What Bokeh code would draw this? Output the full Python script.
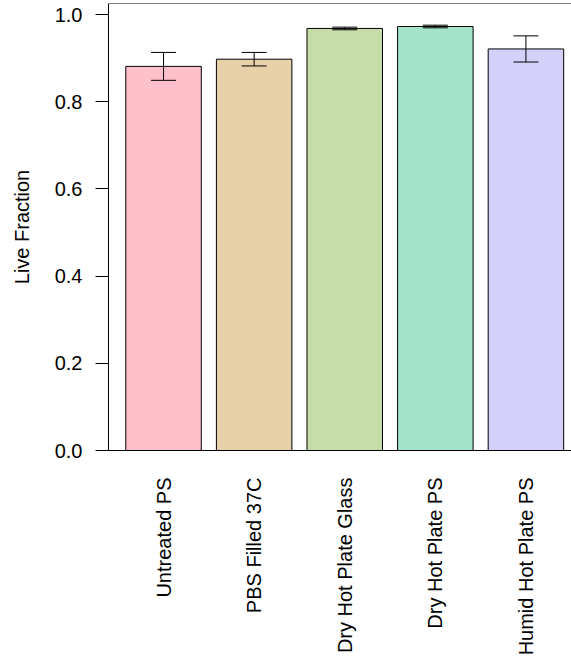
import math
from bokeh.plotting import figure
from bokeh.models import (ColumnDataSource, Range1d, FixedTicker, Whisker, TeeHead,
                          Span, PrintfTickFormatter)
from bokeh.embed import file_html
from bokeh.resources import INLINE

categories = ["Untreated PS", "PBS Filled 37C", "Dry Hot Plate Glass",
              "Dry Hot Plate PS", "Humid Hot Plate PS"]
live_fraction = [0.881, 0.8975, 0.968, 0.9725, 0.921]
error = [0.032, 0.0155, 0.003, 0.003, 0.030]
colors = ["#FFC0CB", "#E8D0A9", "#C6DCA9", "#A3E3CA", "#D3D0FA"]
y_ticks = [0.0, 0.2, 0.4, 0.6, 0.8, 1.0]

xs = list(range(len(categories)))
src = ColumnDataSource(dict(
    x=xs, top=live_fraction, color=colors,
    upper=[m + e for m, e in zip(live_fraction, error)],
    lower=[m - e for m, e in zip(live_fraction, error)],
))

FONT = "Liberation Sans"
Y_END = 1.02523

p = figure(width=571, height=661, output_backend="svg", toolbar_location=None,
           x_range=Range1d(-0.6076, 4.503), y_range=Range1d(0, Y_END),
           min_border_left=108, min_border_right=0, min_border_top=3,
           min_border_bottom=211)
p.outline_line_color = None
p.grid.visible = False
p.background_fill_color = "white"

p.vbar(x="x", top="top", bottom=0, width=1 / 1.2, source=src,
       fill_color="color", line_color="black", line_width=1)

w = Whisker(base="x", upper="upper", lower="lower", source=src,
            line_color="black", line_width=1, level="overlay",
            upper_head=TeeHead(size=25, line_color="black", line_width=1),
            lower_head=TeeHead(size=25, line_color="black", line_width=1))
p.add_layout(w)

p.add_layout(Span(location=Y_END, dimension="width", line_color="black", line_width=1))

# x axis
p.xaxis.ticker = FixedTicker(ticks=xs)
p.xaxis.major_label_overrides = {i: c for i, c in zip(xs, categories)}
p.xaxis.major_label_orientation = math.pi / 2
p.xaxis.major_tick_line_color = None
p.xaxis.major_tick_out = 0
p.xaxis.major_tick_in = 0
p.xaxis.minor_tick_line_color = None
p.xaxis.major_label_standoff = 27
p.xaxis.major_label_text_font = FONT
p.xaxis.major_label_text_font_size = "20px"
p.xaxis.major_label_text_color = "black"
p.xaxis.axis_line_color = "black"

# y axis
p.yaxis.ticker = FixedTicker(ticks=y_ticks)
p.yaxis.formatter = PrintfTickFormatter(format="%.1f")
p.yaxis.major_tick_out = 13
p.yaxis.major_tick_in = 0
p.yaxis.minor_tick_line_color = None
p.yaxis.major_tick_line_color = "black"
p.yaxis.major_label_standoff = 13
p.yaxis.major_label_text_font = FONT
p.yaxis.major_label_text_font_size = "20px"
p.yaxis.major_label_text_color = "black"
p.yaxis.axis_line_color = "black"
p.yaxis.axis_label = "Live Fraction"
p.yaxis.axis_label_text_font = FONT
p.yaxis.axis_label_text_font_size = "20px"
p.yaxis.axis_label_text_font_style = "normal"
p.yaxis.axis_label_text_color = "black"
p.yaxis.axis_label_standoff = 19

open("out.html", "w").write(file_html(p, INLINE))
